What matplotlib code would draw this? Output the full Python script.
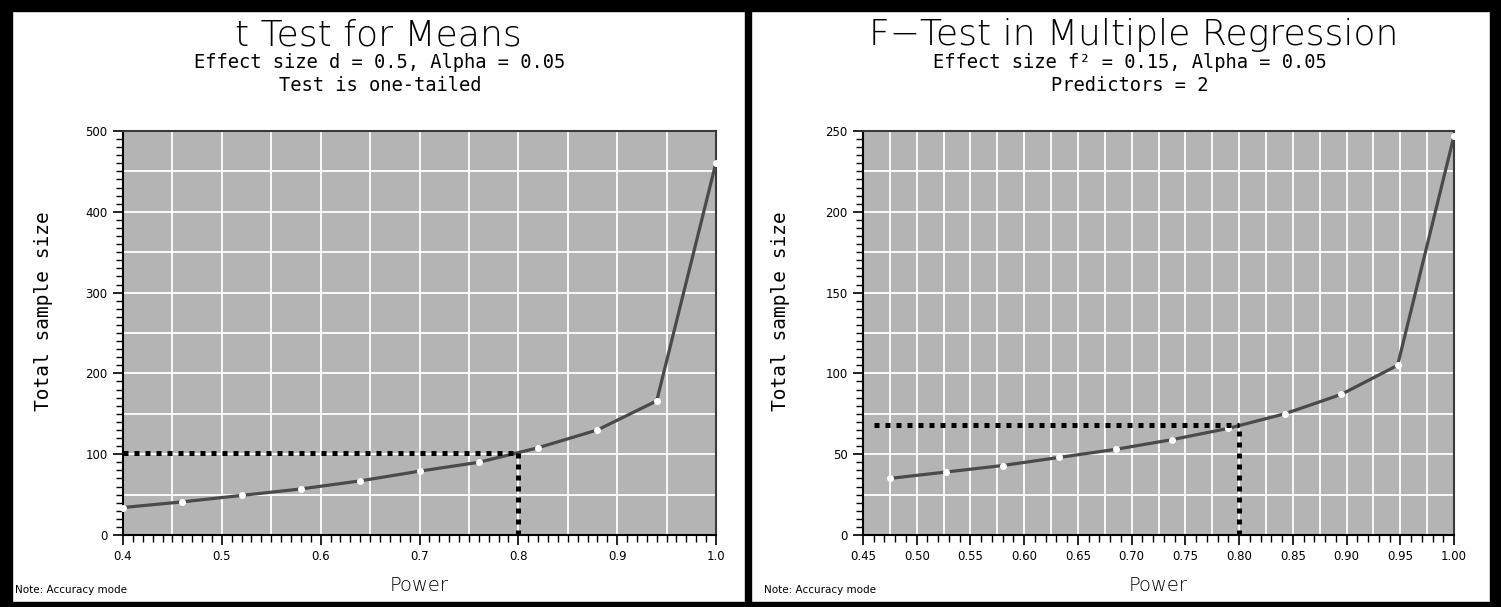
"""
Power-analysis curves: total sample size needed vs. power,
for a one-tailed t test and for the F test in multiple regression.
"""

import matplotlib
matplotlib.use("Agg")
import matplotlib.pyplot as plt
import numpy as np
from matplotlib.patches import Rectangle
from matplotlib.ticker import MultipleLocator, FormatStrFormatter

# t test for means (d = 0.5, alpha = 0.05, one-tailed)
t_power = [0.40, 0.46, 0.52, 0.58, 0.64, 0.70, 0.76, 0.82, 0.88, 0.94, 1.00]
t_total_n = [34, 41, 49, 57, 67, 79, 90, 108, 130, 166, 461]
t_target_power = 0.80
t_target_n = 101

# F test in multiple regression (f2 = 0.15, alpha = 0.05, 2 predictors)
f_power = [0.475, 0.5275, 0.58, 0.6325, 0.685, 0.7375, 0.79, 0.8425, 0.895, 0.9475, 1.00]
f_total_n = [35, 39, 43, 48, 53, 59, 66, 75, 87, 105, 247]
f_target_power = 0.80
f_target_n = 68

BG = "#b4b4b4"
LINE = "#4a4a4a"
TITLE_FONT = "DejaVu Sans"
MONO_FONT = "DejaVu Sans Mono"


def power_panel(ax, power, total_n, target_p, target_n, xlim, ylim,
                xgrid, ygrid, xmajor, ymajor, xminor, yminor, xfmt, hline_start):
    ax.set_facecolor(BG)
    ax.set_xlim(*xlim)
    ax.set_ylim(*ylim)

    # white grid
    for gx in np.arange(xlim[0], xlim[1] + 1e-9, xgrid):
        ax.axvline(gx, color="white", lw=1.3, zorder=1)
    for gy in np.arange(ylim[0], ylim[1] + 1e-9, ygrid):
        ax.axhline(gy, color="white", lw=1.3, zorder=1)

    ax.plot(power, total_n, color=LINE, lw=2.3, zorder=3)
    ax.plot(power, total_n, ls="none", marker="o", ms=4.0, mfc="white", mec="white",
            zorder=4, clip_on=False)

    # dotted reference lines at the target power
    dot = dict(color="black", lw=3.6, ls=(0, (1.0, 1.2)), dash_capstyle="butt", zorder=5)
    ax.plot([hline_start, target_p], [target_n, target_n], **dot)
    ax.plot([target_p, target_p], [ylim[0], target_n], **dot)

    ax.xaxis.set_major_locator(MultipleLocator(xmajor))
    ax.xaxis.set_minor_locator(MultipleLocator(xminor))
    ax.yaxis.set_major_locator(MultipleLocator(ymajor))
    ax.yaxis.set_minor_locator(MultipleLocator(yminor))
    ax.xaxis.set_major_formatter(FormatStrFormatter(xfmt))
    ax.tick_params(which="major", length=7, width=1.2, labelsize=8.5, color="black", pad=4)
    ax.tick_params(which="minor", length=5, width=1.0, color="black")

    for side in ("top", "right"):
        ax.spines[side].set_color("#3a3a3a")
        ax.spines[side].set_linewidth(1.5)
    for side in ("left", "bottom"):
        ax.spines[side].set_color("black")
        ax.spines[side].set_linewidth(1.5)

    ax.set_xlabel("Power", fontsize=14, family=TITLE_FONT, fontweight="light", labelpad=9)
    ax.set_ylabel("Total sample size", fontsize=14, family=MONO_FONT, fontweight="light")


fig = plt.figure(figsize=(15.01, 6.07), dpi=100)
W, H = 1501, 607

ax1 = fig.add_axes([123 / W, 1 - 535 / H, 593 / W, 404 / H])
ax2 = fig.add_axes([863 / W, 1 - 535 / H, 591 / W, 404 / H])

power_panel(ax1, t_power, t_total_n, t_target_power, t_target_n,
            (0.4, 1.0), (0, 500), 0.05, 50, 0.1, 100, 0.01, 10, "%.1f", 0.4)
power_panel(ax2, f_power, f_total_n, f_target_power, f_target_n,
            (0.45, 1.0), (0, 250), 0.025, 25, 0.05, 50, 0.01, 5, "%.2f", 0.46)

# y labels sit a little above the axes centre
ax1.yaxis.set_label_coords(-70 / 593, 0.555)
ax2.yaxis.set_label_coords(-73 / 591, 0.555)

# titles
title_kw = dict(ha="center", va="baseline", fontsize=26, family=TITLE_FONT,
                fontweight="light")
sub_kw = dict(ha="center", va="baseline", fontsize=13.5, family=MONO_FONT)

fig.text(378 / W, 1 - 45 / H, "t Test for Means", **title_kw)
fig.text(380 / W, 1 - 68 / H, "Effect size d = 0.5, Alpha = 0.05", **sub_kw)
fig.text(380 / W, 1 - 91 / H, "Test is one-tailed", **sub_kw)

fig.text(1134 / W, 1 - 45 / H, "F\u2212Test in Multiple Regression", **title_kw)
fig.text(1130 / W, 1 - 68 / H, "Effect size f\u00b2 = 0.15, Alpha = 0.05", **sub_kw)
fig.text(1130 / W, 1 - 91 / H, "Predictors = 2", **sub_kw)

fig.text(15 / W, 1 - 590 / H, "Note: Accuracy mode", ha="left", va="center", fontsize=7.5)
fig.text(764 / W, 1 - 590 / H, "Note: Accuracy mode", ha="left", va="center", fontsize=7.5)

# black frame around and between the two panels
frame = [(0, 0, W, 5), (0, H - 11, W, 11), (0, 0, 12, H), (W - 11, 0, 11, H),
         (745, 0, 6, H)]
for x, y, w, h in frame:
    fig.patches.append(Rectangle((x / W, y / H), w / W, h / H, transform=fig.transFigure,
                                 color="black", zorder=10))

fig.savefig("out.png", dpi=100, facecolor="white")
